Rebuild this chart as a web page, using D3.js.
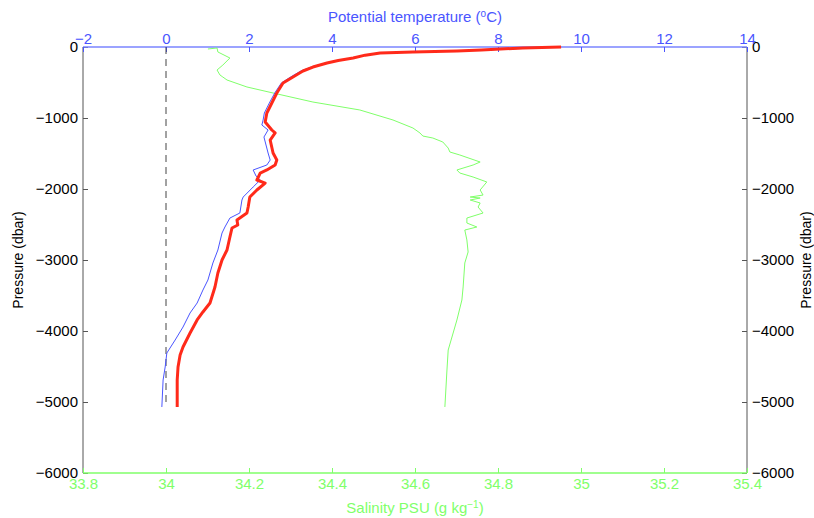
<!DOCTYPE html>
<html>
<head>
<meta charset="utf-8">
<script src="https://cdn.jsdelivr.net/npm/d3@7"></script>
<style>
  body { margin: 0; background: #fff; }
  text { font-family: "Liberation Sans", Arial, Helvetica, sans-serif; }
</style>
</head>
<body>
<svg id="chart" width="814" height="518"></svg>
<script>
// in-situ temperature (red, thick)
var redPressure = [0, -14, -42, -56, -70, -85, -115, -155, -190, -225, -282, -338, -380, -423, -507, -648,
    -789, -930, -1056, -1169, -1211, -1310, -1493, -1592, -1662, -1732, -1775, -1873, -1916, -2014,
    -2113, -2254, -2338, -2437, -2507, -2549, -2676, -2859, -3000, -3183, -3380, -3606, -3732, -3845,
    -4028, -4225, -4338, -4507, -4690, -5070];
var redTemp = [9.52, 8.6, 7.6, 7.01, 5.95, 5.16, 4.8, 4.51, 4.15, 3.88, 3.54, 3.30, 3.18, 3.06, 2.82, 2.67,
    2.55, 2.43, 2.39, 2.55, 2.63, 2.51, 2.58, 2.67, 2.63, 2.43, 2.27, 2.19, 2.39, 2.19,
    2.02, 1.98, 1.95, 1.71, 1.73, 1.59, 1.54, 1.47, 1.35, 1.25, 1.18, 1.06, 0.89, 0.75,
    0.58, 0.41, 0.34, 0.29, 0.27, 0.27];

// potential temperature (blue, thin)
var bluePressure = [0, -56, -70, -85, -155, -225, -282, -338, -423, -507, -648, -789, -930, -1028,
    -1099, -1169, -1268, -1493, -1592, -1662, -1732, -1817, -1873, -1972, -2113, -2155, -2338, -2409,
    -2535, -2620, -2859, -3042, -3282, -3423, -3606, -3746, -3944, -4127, -4310, -4507, -4690, -5070];
var blueTemp = [9.5, 7.0, 5.9, 5.1, 4.48, 3.85, 3.5, 3.25, 3.0, 2.78, 2.62, 2.49, 2.37, 2.34,
    2.31, 2.46, 2.36, 2.46, 2.51, 2.43, 2.10, 2.17, 2.27, 2.10, 1.86, 1.83, 1.78, 1.54,
    1.42, 1.35, 1.25, 1.13, 1.01, 0.89, 0.75, 0.58, 0.41, 0.22, 0.02, -0.02, -0.07, -0.10];

// salinity (green)
var salPressure = [-28, -14, -70, -155, -254, -324, -394, -423, -465, -563, -648, -775, -887, -1028,
    -1141, -1211, -1254, -1282, -1338, -1423, -1479, -1521, -1620, -1662, -1732, -1775, -1831, -1901,
    -2014, -2085, -2113, -2127, -2155, -2197, -2254, -2338, -2409, -2479, -2535, -2578, -2718, -2887,
    -3042, -3380, -3563, -3845, -4268, -4549, -5070];
var salinity = [34.101, 34.123, 34.125, 34.154, 34.137, 34.123, 34.130, 34.137, 34.147, 34.195, 34.258,
    34.354, 34.467, 34.547, 34.595, 34.612, 34.619, 34.643, 34.667, 34.680, 34.684, 34.708, 34.757,
    34.740, 34.701, 34.708, 34.740, 34.773, 34.757, 34.764, 34.733, 34.757, 34.733, 34.757, 34.752,
    34.764, 34.725, 34.725, 34.749, 34.720, 34.725, 34.728, 34.720, 34.716, 34.713, 34.701, 34.680,
    34.677, 34.672];

var tempTicks = [-2, 0, 2, 4, 6, 8, 10, 12, 14];
var salTicks = [33.8, 34, 34.2, 34.4, 34.6, 34.8, 35, 35.2, 35.4];
var pressureTicks = [0, -1000, -2000, -3000, -4000, -5000, -6000];

var blueCol = "#4a55ff", greenCol = "#80ff6a", redCol = "#ff2a1a", axisCol = "#555";

var svg = d3.select("#chart"),
    plotLeft = 83, plotRight = 747, plotTop = 47, plotBottom = 473;

var x = d3.scaleLinear().domain([-2, 14]).range([plotLeft, plotRight]);
var xs = d3.scaleLinear().domain([33.8, 35.4]).range([plotLeft, plotRight]);
var y = d3.scaleLinear().domain([-6000, 0]).range([plotBottom, plotTop]);

function styleAxis(g, col, textCol) {
    g.select(".domain").remove();
    g.selectAll(".tick line").attr("stroke", col);
    g.selectAll(".tick text").attr("fill", textCol).style("font-size", "15px");
}

// frame lines
svg.append("line").attr("x1", plotLeft).attr("x2", plotLeft).attr("y1", plotTop).attr("y2", plotBottom)
    .attr("stroke", axisCol).attr("stroke-width", 1);
svg.append("line").attr("x1", plotRight).attr("x2", plotRight).attr("y1", plotTop).attr("y2", plotBottom)
    .attr("stroke", axisCol).attr("stroke-width", 1);

svg.append("g").attr("transform", "translate(" + plotLeft + ",0)")
    .call(d3.axisLeft(y).tickValues(pressureTicks).tickSize(-5).tickPadding(5).tickFormat(d3.format("")))
    .call(function(g) { styleAxis(g, axisCol, "#000"); });
svg.append("g").attr("transform", "translate(" + plotRight + ",0)")
    .call(d3.axisRight(y).tickValues(pressureTicks).tickSize(-5).tickPadding(5).tickFormat(d3.format("")))
    .call(function(g) { styleAxis(g, axisCol, "#000"); });

svg.append("line").attr("x1", plotLeft).attr("x2", plotRight).attr("y1", plotTop).attr("y2", plotTop)
    .attr("stroke", "#7a85ff").attr("stroke-width", 1.5);
svg.append("g").attr("transform", "translate(0," + plotTop + ")")
    .call(d3.axisTop(x).tickValues(tempTicks).tickSize(-5).tickPadding(3).tickFormat(d3.format("")))
    .call(function(g) { styleAxis(g, blueCol, blueCol); });

svg.append("line").attr("x1", plotLeft).attr("x2", plotRight).attr("y1", plotBottom).attr("y2", plotBottom)
    .attr("stroke", greenCol).attr("stroke-width", 1.5);
svg.append("g").attr("transform", "translate(0," + plotBottom + ")")
    .call(d3.axisBottom(xs).tickValues(salTicks).tickSize(-5).tickPadding(5)
        .tickFormat(function(d) { return String(+d.toFixed(1)); }))
    .call(function(g) { styleAxis(g, greenCol, greenCol); });

// zero line
svg.append("line").attr("x1", x(0)).attr("x2", x(0)).attr("y1", y(0)).attr("y2", y(-5070))
    .attr("stroke", "#444").attr("stroke-dasharray", "7,5").attr("stroke-width", 1);

var zip = function(a, b) { return a.map(function(v, i) { return [v, b[i]]; }); };

svg.append("path").datum(zip(salinity, salPressure))
    .attr("fill", "none").attr("stroke", greenCol).attr("stroke-width", 1)
    .attr("d", d3.line().x(function(d) { return xs(d[0]); }).y(function(d) { return y(d[1]); }));

svg.append("path").datum(zip(blueTemp, bluePressure))
    .attr("fill", "none").attr("stroke", blueCol).attr("stroke-width", 1)
    .attr("d", d3.line().x(function(d) { return x(d[0]); }).y(function(d) { return y(d[1]); }));

svg.append("path").datum(zip(redTemp, redPressure))
    .attr("fill", "none").attr("stroke", redCol).attr("stroke-width", 3).attr("stroke-linejoin", "round")
    .attr("d", d3.line().x(function(d) { return x(d[0]); }).y(function(d) { return y(d[1]); }));

// titles
var t = svg.append("text").attr("x", (plotLeft + plotRight) / 2).attr("y", 22)
    .attr("text-anchor", "middle").attr("fill", blueCol).style("font-size", "15px");
t.append("tspan").text("Potential temperature (");
t.append("tspan").attr("baseline-shift", "super").style("font-size", "10px").text("o");
t.append("tspan").text("C)");

var b = svg.append("text").attr("x", (plotLeft + plotRight) / 2).attr("y", 513)
    .attr("text-anchor", "middle").attr("fill", greenCol).style("font-size", "15px");
b.append("tspan").text("Salinity PSU (g kg");
b.append("tspan").attr("baseline-shift", "super").style("font-size", "10px").text("\u22121");
b.append("tspan").text(")");

svg.append("text").attr("transform", "translate(23,260) rotate(-90)")
    .attr("text-anchor", "middle").style("font-size", "14px").text("Pressure (dbar)");
svg.append("text").attr("transform", "translate(811,260) rotate(-90)")
    .attr("text-anchor", "middle").style("font-size", "14px").text("Pressure (dbar)");
</script>
</body>
</html>
